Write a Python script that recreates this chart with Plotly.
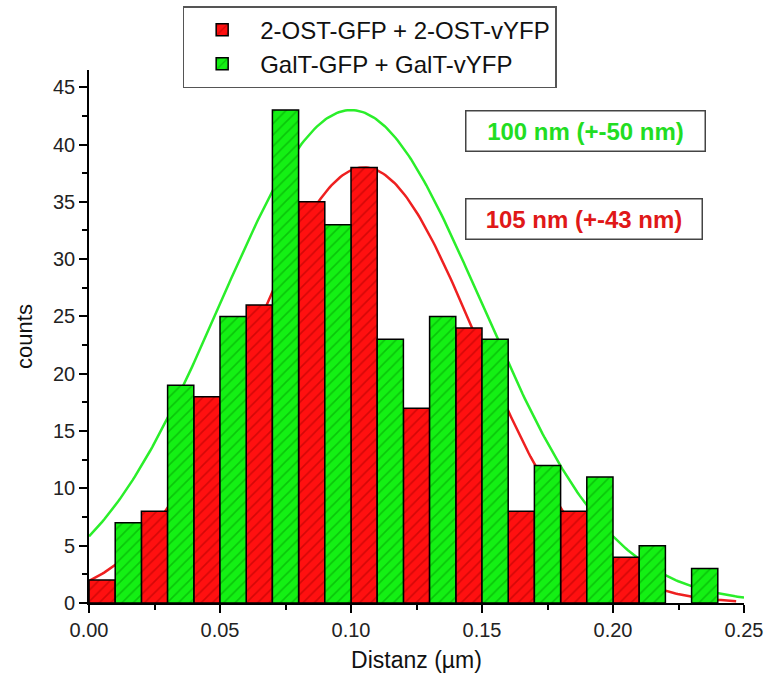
import numpy as np
import plotly.graph_objects as go

# Histogram of measured distances (bin width 0.01 µm), two constructs interleaved
red_name = "2-OST-GFP + 2-OST-vYFP"
red_centers = [0.005, 0.025, 0.045, 0.065, 0.085, 0.105, 0.125, 0.145, 0.165, 0.185, 0.205]
red_counts = [2, 8, 18, 26, 35, 38, 17, 24, 8, 8, 4]

green_name = "GalT-GFP + GalT-vYFP"
green_centers = [0.015, 0.035, 0.055, 0.075, 0.095, 0.115, 0.135, 0.155, 0.175, 0.195, 0.215, 0.235]
green_counts = [7, 19, 25, 43, 33, 23, 25, 23, 12, 11, 5, 3]

bin_width = 0.01

# Gaussian fit parameters (amplitude, centre, sigma) in µm
red_fit = (38.0, 0.105, 0.043)
green_fit = (43.0, 0.100, 0.050)
red_label = "105 nm (+-43 nm)"
green_label = "100 nm (+-50 nm)"

RED = "#ff1010"
GREEN = "#14f014"
FONT = "Liberation Sans, Arial, sans-serif"


def gauss(x, a, mu, s):
    return a * np.exp(-0.5 * ((x - mu) / s) ** 2)


xr = np.linspace(0.0, 0.247, 300)
xg = np.linspace(0.0, 0.25, 300)

fig = go.Figure()

# fitted curves sit on the base axes so the bars (overlay axes) are drawn on top
fig.add_trace(go.Scatter(x=xg, y=gauss(xg, *green_fit), mode="lines",
                         line=dict(color="#2aee2a", width=2.5), showlegend=False,
                         hoverinfo="skip", xaxis="x", yaxis="y"))
fig.add_trace(go.Scatter(x=xr, y=gauss(xr, *red_fit), mode="lines",
                         line=dict(color="#ee2020", width=2.5), showlegend=False,
                         hoverinfo="skip", xaxis="x", yaxis="y"))

fig.add_trace(go.Bar(
    x=red_centers, y=red_counts, width=bin_width, name=red_name,
    marker=dict(color=RED, line=dict(color="black", width=1.5),
                pattern=dict(shape="/", fgcolor="#a80000", bgcolor=RED,
                             size=8, solidity=0.2)),
    xaxis="x2", yaxis="y2"))
fig.add_trace(go.Bar(
    x=green_centers, y=green_counts, width=bin_width, name=green_name,
    marker=dict(color=GREEN, line=dict(color="black", width=1.5),
                pattern=dict(shape="/", fgcolor="#009a00", bgcolor=GREEN,
                             size=8, solidity=0.2)),
    xaxis="x2", yaxis="y2"))

axis_common = dict(showgrid=False, zeroline=False, showline=True, linecolor="black",
                   linewidth=1.6, ticks="outside", ticklen=8, tickwidth=1.5,
                   tickcolor="black", automargin=False,
                   tickfont=dict(family=FONT, size=20, color="#222"))

fig.update_layout(
    width=766, height=683,
    margin=dict(l=89, r=22, t=70, b=80, autoexpand=False),
    plot_bgcolor="white", paper_bgcolor="white",
    barmode="overlay",
    font=dict(family=FONT, color="#111"),
    xaxis=dict(range=[0, 0.25], tickvals=[0, 0.05, 0.10, 0.15, 0.20, 0.25],
               tickformat=".2f",
               minor=dict(ticks="outside", ticklen=5, tickwidth=1.5, tickcolor="black",
                          dtick=0.025, tick0=0),
               title=dict(text="Distanz (µm)", font=dict(family=FONT, size=23), standoff=12),
               **axis_common),
    yaxis=dict(range=[0, 46.5], tickvals=[0, 5, 10, 15, 20, 25, 30, 35, 40, 45],
               minor=dict(ticks="outside", ticklen=5, tickwidth=1.5, tickcolor="black",
                          dtick=2.5, tick0=0),
               title=dict(text="counts", font=dict(family=FONT, size=22), standoff=14),
               **axis_common),
    xaxis2=dict(overlaying="x", matches="x", visible=False, range=[0, 0.25]),
    yaxis2=dict(overlaying="y", matches="y", visible=False, range=[0, 46.5]),
    legend=dict(x=0.143, y=1.12, xanchor="left", yanchor="top",
                bordercolor="#555", borderwidth=1.5, bgcolor="white",
                font=dict(family=FONT, size=24, color="#111"),
                itemwidth=66, tracegroupgap=0),
    showlegend=True,
)

fig.add_annotation(xref="paper", yref="paper", x=0.7577, y=0.886,
                   xanchor="center", yanchor="middle",
                   text=f"<b>{green_label}</b>", showarrow=False,
                   font=dict(family=FONT, size=24, color="#22dd22"),
                   bordercolor="#444", borderwidth=1.5, bgcolor="white",
                   width=236, height=37, borderpad=1)
fig.add_annotation(xref="paper", yref="paper", x=0.7562, y=0.721,
                   xanchor="center", yanchor="middle",
                   text=f"<b>{red_label}</b>", showarrow=False,
                   font=dict(family=FONT, size=24, color="#e01818"),
                   bordercolor="#444", borderwidth=1.5, bgcolor="white",
                   width=233, height=37, borderpad=1)

fig.write_html("out.html")
